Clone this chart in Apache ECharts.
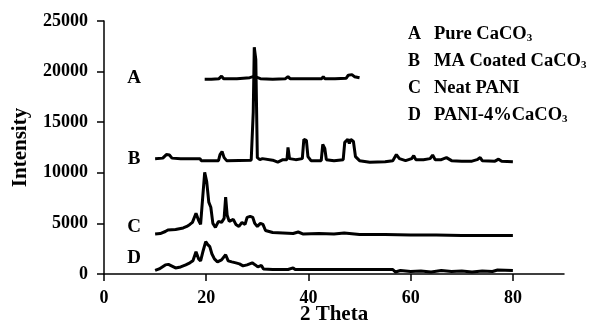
<!DOCTYPE html>
<html>
<head>
<meta charset="utf-8">
<title>XRD patterns</title>
<script src="https://cdn.jsdelivr.net/npm/echarts@6/dist/echarts.min.js"></script>
<style>
  html, body { margin: 0; padding: 0; background: #fff; }
  #chart { width: 589px; height: 324px; }
</style>
</head>
<body>
<div id="chart"></div>
<script>
// x tick labels (2 Theta)
const xTicks = [0, 20, 40, 60, 80]

// [2 theta, intensity]
const seriesA = [
  [19.7, 19250], [21, 19250], [22.5, 19300], [23, 19550], [23.4, 19300], [26, 19300],
  [28.5, 19400], [29.2, 19500], [29.8, 19450], [30.6, 19300], [33, 19250], [35.5, 19300],
  [36, 19500], [36.4, 19300], [37.5, 19300], [37.8, 19450], [38.1, 19300], [40.6, 19300],
  [40.9, 19450], [41.2, 19300], [42.6, 19300], [42.9, 19500], [43.2, 19300], [44.6, 19300],
  [44.9, 19450], [45.2, 19300], [47.4, 19350], [47.8, 19650], [48.5, 19700], [49, 19500],
  [50, 19400]
]

const seriesB = [
  [10, 11400], [11.5, 11450], [12.2, 11800], [12.8, 11750], [13.3, 11450], [15, 11400],
  [18.8, 11400], [19, 11200], [22.4, 11200], [22.7, 11800], [23.1, 12100], [23.5, 11500],
  [24, 11200], [28.8, 11250], [29.2, 16000], [29.4, 22400], [29.7, 21200], [30, 11500],
  [30.5, 11300], [31, 11400], [33, 11250], [34, 11050], [35, 11300], [35.8, 11300],
  [36, 12500], [36.3, 11400], [37.5, 11300], [38.8, 11400], [39.1, 13300], [39.6, 13200],
  [39.9, 11600], [40.5, 11200], [42.5, 11200], [42.8, 12800], [43.2, 12400], [43.5, 11300],
  [45, 11200], [46.8, 11300], [47.1, 13000], [47.7, 13300], [48, 12900], [48.3, 13300],
  [48.8, 13100], [49.2, 11600], [50, 11200], [52, 11050], [55, 11100], [56.5, 11200],
  [57.2, 11800], [57.8, 11400], [59, 11200], [60.2, 11400], [60.6, 11700], [61, 11300],
  [62.5, 11300], [63.8, 11400], [64.3, 11750], [64.8, 11300], [66, 11300], [67, 11500],
  [68, 11200], [70, 11150], [72, 11150], [73, 11300], [73.6, 11500], [74, 11200],
  [76.5, 11150], [77.2, 11350], [77.8, 11150], [80, 11100]
]

const seriesC = [
  [10, 3950], [11, 4000], [12, 4200], [12.5, 4350], [14, 4400], [15.5, 4550], [16.2, 4700],
  [16.8, 4900], [17.3, 5100], [18, 6000], [18.5, 5300], [18.9, 4900], [19.3, 7500],
  [19.7, 10050], [20.1, 9100], [20.5, 7100], [20.9, 6600], [21.3, 5000], [21.8, 4600],
  [22.4, 5200], [23, 5100], [23.5, 5500], [23.8, 7600], [24.1, 5800], [24.5, 5200],
  [25.3, 5400], [25.8, 4900], [26.4, 4700], [27, 5100], [27.6, 4900], [28, 5600],
  [28.6, 5700], [29.1, 5600], [29.5, 5000], [30, 4700], [30.6, 5000], [31.1, 4900],
  [31.6, 4300], [33, 4100], [35, 4050], [37, 4000], [38, 4150], [39, 3950], [42, 4000],
  [45, 3950], [47, 4050], [50, 3900], [55, 3900], [60, 3850], [65, 3850], [70, 3800],
  [75, 3800], [80, 3800]
]

const seriesD = [
  [10, 350], [10.8, 500], [11.4, 700], [12, 900], [12.6, 950], [13.2, 800], [14, 600],
  [15, 700], [16, 900], [16.8, 1100], [17.4, 1300], [18, 2200], [18.5, 1500], [18.9, 1300],
  [19.4, 2300], [19.9, 3200], [20.3, 2900], [20.7, 2700], [21.1, 2000], [21.6, 1500],
  [22.2, 1200], [23, 1400], [23.8, 1900], [24.3, 1300], [25, 1200], [25.8, 1100],
  [26.5, 1000], [27.2, 800], [28, 900], [29, 1100], [29.6, 900], [30.1, 700], [30.8, 850],
  [31.2, 500], [33, 450], [36, 450], [37, 600], [37.4, 450], [40, 450], [45, 450],
  [50, 450], [55, 450], [56.5, 450], [57, 200], [58, 350], [60, 250], [62, 300], [64, 200],
  [66, 350], [68, 250], [70, 300], [72, 200], [74, 300], [76, 250], [77, 400], [80, 350]
]

// curve letters and where they sit (data coords)
const curveLetters = ['A', 'B', 'C', 'D']
const letterPos = [[5.9, 19400], [5.9, 11400], [5.9, 4640], [5.9, 1580]]

// legend text on the right
const legendNames = [
  'Pure CaCO{sub|3}',
  'MA Coated CaCO{sub|3}',
  'Neat PANI',
  'PANI-4%CaCO{sub|3}'
]

const FONT = '"Liberation Serif", "Times New Roman", serif'

const chart = echarts.init(document.getElementById('chart'))

const makeSeries = (data, i) => ({
  name: curveLetters[i],
  type: 'line',
  data: data,
  symbol: 'none',
  lineStyle: { color: '#000', width: 3 },
  itemStyle: { color: '#000' },
  animation: false,
  markPoint: {
    symbol: 'circle',
    symbolSize: 1,
    itemStyle: { color: 'rgba(0,0,0,0)' },
    label: {
      show: true,
      position: 'inside',
      formatter: curveLetters[i],
      color: '#000',
      fontFamily: FONT,
      fontWeight: 'bold',
      fontSize: 19
    },
    data: [{ coord: letterPos[i] }]
  }
})

const legendGraphics = []
legendNames.forEach((name, i) => {
  const y = 34 + i * 27
  legendGraphics.push({
    type: 'text',
    x: 408,
    y: y,
    style: {
      text: curveLetters[i],
      font: 'bold 18px ' + FONT,
      fill: '#000',
      verticalAlign: 'middle'
    }
  })
  legendGraphics.push({
    type: 'text',
    x: 434,
    y: y,
    style: {
      text: name,
      fill: '#000',
      font: 'bold 18.5px ' + FONT,
      verticalAlign: 'middle',
      rich: {
        sub: {
          fontSize: 11,
          fontWeight: 'bold',
          fontFamily: FONT,
          lineHeight: 11,
          verticalAlign: 'bottom'
        }
      }
    }
  })
})

const option = {
  animation: false,
  grid: { left: 104, right: 25, top: 21, bottom: 50, outerBoundsMode: 'none', containLabel: false },
  xAxis: {
    type: 'value',
    min: 0,
    max: 90,
    interval: 20,
    name: '2 Theta',
    nameLocation: 'middle',
    nameGap: 30,
    nameMoveOverlap: false,
    nameTextStyle: { fontFamily: FONT, fontWeight: 'bold', fontSize: 21, color: '#000' },
    axisLine: { show: true, lineStyle: { color: '#000', width: 1.5 } },
    axisTick: { show: true, length: 7, lineStyle: { color: '#000', width: 1.5 }, customValues: xTicks },
    axisLabel: {
      color: '#000', fontFamily: FONT, fontWeight: 'bold', fontSize: 18, margin: 15,
      customValues: xTicks
    },
    splitLine: { show: false }
  },
  yAxis: {
    type: 'value',
    min: 0,
    max: 25000,
    interval: 5000,
    name: 'Intensity',
    nameLocation: 'middle',
    nameGap: 73,
    nameMoveOverlap: false,
    nameTextStyle: { fontFamily: FONT, fontWeight: 'bold', fontSize: 21, color: '#000' },
    axisLine: { show: true, lineStyle: { color: '#000', width: 1.5 } },
    axisTick: { show: true, length: 7, lineStyle: { color: '#000', width: 1.5 } },
    axisLabel: {
      color: '#000', fontFamily: FONT, fontWeight: 'bold', fontSize: 18, margin: 16,
      formatter: v => String(v)
    },
    splitLine: { show: false }
  },
  graphic: legendGraphics,
  series: [seriesA, seriesB, seriesC, seriesD].map(makeSeries)
}

chart.setOption(option)
</script>
</body>
</html>
